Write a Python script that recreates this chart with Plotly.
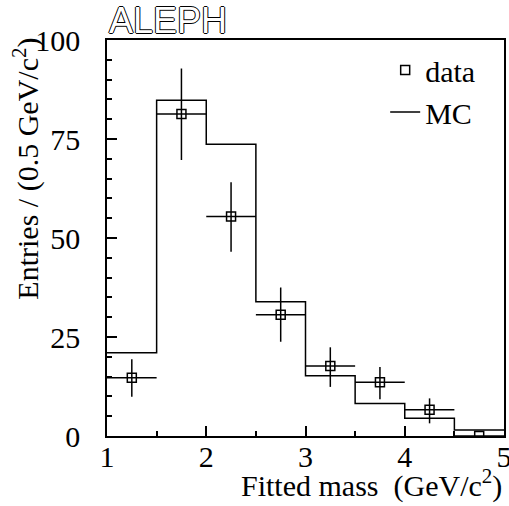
import plotly.graph_objects as go

# Bin edges and centres (GeV/c^2)
bin_edges = [1.0, 1.5, 2.0, 2.5, 3.0, 3.5, 4.0, 4.5, 5.0]
bin_centres = [1.25, 1.75, 2.25, 2.75, 3.25, 3.75, 4.25, 4.75]
bin_halfwidth = [0.25] * 8

# Data points with asymmetric errors
data_values = [14.7, 81.3, 55.4, 30.6, 17.7, 13.6, 6.6, 0.0]
data_err_up = [4.7, 11.5, 8.7, 6.9, 4.7, 3.8, 2.9, 0.0]
data_err_dn = [4.8, 11.6, 8.9, 6.8, 5.3, 4.3, 3.4, 0.0]

# MC histogram contents
mc_values = [21.0, 84.8, 73.7, 33.9, 15.2, 8.2, 4.5, 1.5]

x_ticks = [1, 2, 3, 4, 5]
y_ticks = [0, 25, 50, 75, 100]

FONT = "Liberation Serif, Times New Roman, serif"
fs = 30

fig = go.Figure()

fig.add_trace(go.Scatter(
    x=bin_edges, y=mc_values + [mc_values[-1]],
    mode="lines", line=dict(shape="hv", color="black", width=1.5),
    name="MC",
))

fig.add_trace(go.Scatter(
    x=bin_centres, y=data_values, mode="markers", name="data",
    marker=dict(symbol="square-open", size=9, color="black", line=dict(width=1.5)),
    error_y=dict(type="data", symmetric=False, array=data_err_up, arrayminus=data_err_dn,
                 color="black", thickness=1.5, width=0),
    error_x=dict(type="data", array=bin_halfwidth, color="black", thickness=1.5, width=0),
))

axis_common = dict(
    showline=True, linecolor="black", linewidth=1.5, mirror=True,
    ticks="inside", tickcolor="black", tickwidth=1.5, ticklen=10,
    showgrid=False, zeroline=False,
    tickfont=dict(family=FONT, size=fs, color="black"),
    ticklabeloverflow="allow", automargin=False,
)

fig.update_xaxes(range=[1, 5], tickvals=x_ticks, ticktext=[str(v) for v in x_ticks],
                 minor=dict(tickvals=[1.5, 2.5, 3.5, 4.5], ticks="inside", ticklen=5,
                            tickcolor="black", tickwidth=1.5),
                 ticklabelstandoff=-7,
                 **axis_common)
fig.update_yaxes(range=[0, 100], tickvals=y_ticks, ticktext=[str(v) for v in y_ticks],
                 minor=dict(dtick=5, ticks="inside", ticklen=5, tickcolor="black", tickwidth=1.5),
                 ticklabelstandoff=19,
                 **axis_common)

fig.add_annotation(text="Fitted mass  (GeV/c<sup>2</sup>)", xref="paper", yref="paper",
                   x=1.0, y=-0.065, xanchor="right", yanchor="top", showarrow=False,
                   font=dict(family=FONT, size=fs, color="black"))
fig.add_annotation(text="Entries / (0.5 GeV/c<sup>2</sup>)", xref="paper", yref="paper",
                   x=-0.205, y=1.01, xanchor="center", yanchor="top", textangle=-90,
                   showarrow=False, font=dict(family=FONT, size=fs, color="black"))
fig.add_annotation(text="ALEPH", xref="paper", yref="paper", x=0.0, y=1.05, xanchor="left",
                   yanchor="middle", showarrow=False,
                   font=dict(family="Liberation Sans, Arial, sans-serif", size=36, color="white",
                             shadow="1px 0 0 #000, -1px 0 0 #000, 0 1px 0 #000, 0 -1px 0 #000"))

fig.update_layout(
    width=509, height=506,
    margin=dict(l=107, r=5, t=40, b=70),
    paper_bgcolor="white", plot_bgcolor="white",
    showlegend=True,
    legend=dict(x=0.94, y=0.99, xanchor="right", yanchor="top", bgcolor="rgba(0,0,0,0)",
                font=dict(family=FONT, size=fs, color="black"), traceorder="reversed",
                itemwidth=30, tracegroupgap=0),
)

fig.write_html("out.html", config={"displayModeBar": False},
               post_script="document.body.style.margin='0';")
